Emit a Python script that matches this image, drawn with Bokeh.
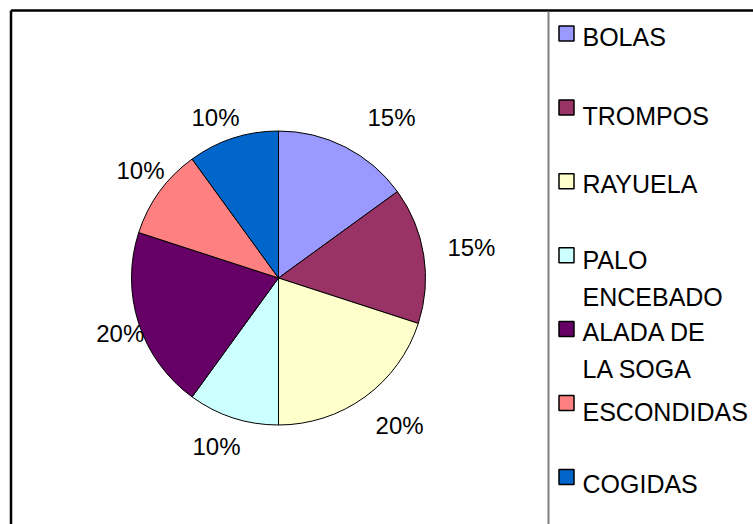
import math

from bokeh.core.properties import value
from bokeh.embed import file_html
from bokeh.models import ColumnDataSource, Range1d
from bokeh.plotting import figure
from bokeh.resources import INLINE

# --- data -------------------------------------------------------------
categories = ["BOLAS", "TROMPOS", "RAYUELA", "PALO ENCEBADO",
              "ALADA DE LA SOGA", "ESCONDIDAS", "COGIDAS"]
legend_lines = [["BOLAS"], ["TROMPOS"], ["RAYUELA"], ["PALO", "ENCEBADO"],
                ["ALADA DE", "LA SOGA"], ["ESCONDIDAS"], ["COGIDAS"]]
percent = [15, 15, 20, 10, 20, 10, 10]
colors = ["#9999FF", "#993366", "#FFFFCC", "#CCFFFF",
          "#660066", "#FF8080", "#0066CC"]

# --- layout (page pixels, y measured downward from the top) -----------
W, H = 753, 524
CX, CY, R = 278.0, 277.5, 147.0
label_dist = [196.5, 195.4, 190.8, 179.5, 167.7, 174.9, 172.7]
label_nudge_deg = [8.1, -0.1, -3.4, 2.2, -1.3, 1.9, -3.4]
FS_LABEL = 24
FS_LEG = 25
LEG_SQ_X, LEG_SQ_Y0, LEG_STEP, SQ = 566.0, 33.0, 73.9, 15
LEG_TEXT_X = 582.0
leg_text_offset = [3, 9, 2.5, 5, 3, 8.5, 7.5]
LINE_H = 36.5
FONT = "Liberation Sans"


def yy(y_px):
    """Convert a downward page y into the plot's upward data y."""
    return H - y_px


p = figure(width=W, height=H, output_backend="svg", toolbar_location=None,
           x_range=Range1d(0, W), y_range=Range1d(0, H),
           x_axis_type=None, y_axis_type=None, min_border=0,
           outline_line_color=None, background_fill_color="white",
           border_fill_color="white")
p.grid.visible = False

# --- frame lines --------------------------------------------------------
p.segment(x0=[10.5, 10.5], y0=[yy(10), yy(10)], x1=[W, 10.5], y1=[yy(10), 0],
          line_color="black", line_width=2.5)
p.segment(x0=[548], y0=[yy(11)], x1=[548], y1=[0],
          line_color="#808080", line_width=2)

# --- pie ----------------------------------------------------------------
total = float(sum(percent))
starts, ends, mids = [], [], []
acc = 0.0
for v in percent:
    a0 = acc / total
    acc += v
    a1 = acc / total
    starts.append(math.pi / 2 - a0 * 2 * math.pi)
    ends.append(math.pi / 2 - a1 * 2 * math.pi)
    mids.append((a0 + a1) / 2 * 360.0)  # degrees clockwise from 12 o'clock

pie_src = ColumnDataSource(dict(start=starts, end=ends, color=colors,
                                name=categories))
p.wedge(x=CX, y=yy(CY), radius=R, start_angle="start", end_angle="end",
        direction="clock", fill_color="color", line_color="black",
        line_width=1, source=pie_src)

# --- percentage labels --------------------------------------------------
lx, ly, ltxt = [], [], []
for v, m, d, n in zip(percent, mids, label_dist, label_nudge_deg):
    ang = math.radians(m + n)
    lx.append(CX + d * math.sin(ang))
    ly.append(yy(CY - d * math.cos(ang)))
    ltxt.append(f"{v}%")
p.text(x=lx, y=ly, text=ltxt, text_font=value(FONT),
       text_font_size=f"{FS_LABEL}px", text_align="center",
       text_baseline="middle", text_color="black")

# --- legend -------------------------------------------------------------
sq_y = [yy(LEG_SQ_Y0 + i * LEG_STEP) for i in range(len(categories))]
p.rect(x=[LEG_SQ_X] * len(categories), y=sq_y, width=SQ, height=SQ,
       fill_color=colors, line_color="black", line_width=1.5)

tx, ty, tt = [], [], []
for i, lines in enumerate(legend_lines):
    first = LEG_SQ_Y0 + i * LEG_STEP + leg_text_offset[i]
    for j, line in enumerate(lines):
        tx.append(LEG_TEXT_X)
        ty.append(yy(first + j * LINE_H))
        tt.append(line)
p.text(x=tx, y=ty, text=tt, text_font=value(FONT),
       text_font_size=f"{FS_LEG}px", text_align="left",
       text_baseline="middle", text_color="black")

open("out.html", "w").write(file_html(p, INLINE))
